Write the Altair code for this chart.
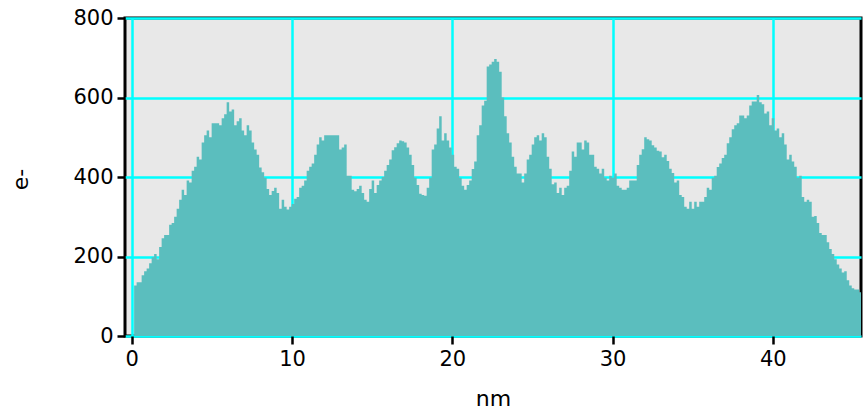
import altair as alt
import pandas as pd

# histogram bin layout (nm)
bin_start = 0.15
bin_width = 0.156

# electron counts per bin, read left to right
counts_a = [127, 135, 135, 153, 163, 170, 183, 198, 206, 193, 224, 246, 254, 254, 280, 284,
            300, 320, 343, 368, 355, 391, 386, 416, 426, 451, 444, 487, 505, 517, 500, 535,
            535, 535, 530, 548, 558, 588, 565, 570, 530, 540, 548, 517, 505, 530, 517, 487]
counts_b = [469, 456, 424, 412, 398, 370, 355, 365, 373, 360, 320, 343, 325, 318, 325, 332,
            345, 350, 373, 378, 391, 416, 426, 434, 456, 482, 500, 492, 505, 505, 505, 505,
            505, 505, 469, 474, 482, 403, 403, 368, 364, 370, 378, 360, 343, 338, 370, 391, 360]
counts_c = [380, 391, 400, 416, 430, 444, 467, 475, 485, 492, 490, 487, 474, 456, 430, 398,
            380, 358, 355, 353, 373, 398, 469, 482, 522, 553, 492, 510, 492, 474, 456, 426,
            421, 398, 378, 368, 380, 391, 420, 439, 505, 530, 580, 592, 678, 683, 690, 697,
            690, 665]
counts_d = [600, 553, 510, 487, 451, 426, 409, 409, 386, 409, 444, 456, 482, 500, 505, 492,
            510, 500, 451, 421, 382, 386, 360, 373, 355, 373, 378, 416, 464, 451, 487, 487,
            469, 492, 487, 456, 456, 426, 421, 409, 421, 398, 391, 403, 398, 409, 378, 373, 368]
counts_e = [368, 373, 391, 391, 391, 430, 456, 470, 500, 495, 492, 480, 474, 466, 464, 450,
            456, 440, 421, 410, 386, 391, 355, 350, 325, 320, 338, 320, 338, 325, 338, 338,
            350, 373, 368, 398, 403, 425, 434, 448, 456, 485, 500, 520, 530, 535, 555, 555,
            548, 555]
counts_f = [580, 590, 590, 606, 588, 583, 560, 565, 530, 548, 517, 522, 500, 510, 482, 444,
            456, 439, 426, 398, 403, 350, 338, 343, 338, 300, 302, 284, 259, 254, 254, 236,
            219, 206, 193, 180, 170, 160, 163, 140, 127, 120, 117, 117, 110]

x_ticks = [0, 10, 20, 30, 40]
y_ticks = [0, 200, 400, 600, 800]
x_domain = [-0.42, 45.5]
y_domain = [0, 800]

counts = counts_a + counts_b + counts_c + counts_d + counts_e + counts_f
df = pd.DataFrame({"counts": counts})
df["x0"] = bin_start + bin_width * df.index
# closing edge of the last bin so the step outline ends at the bin's right side
end_row = pd.DataFrame({"counts": [counts[-1]], "x0": [bin_start + bin_width * len(counts)]})
df = pd.concat([df, end_row], ignore_index=True)

FONT = "DejaVu Sans"

chart = alt.Chart(df).mark_area(
    color="#5BBEBE", interpolate="step-after", clip=True, opacity=1
).encode(
    x=alt.X("x0:Q",
            scale=alt.Scale(domain=x_domain, nice=False, zero=False),
            axis=alt.Axis(values=x_ticks, title="nm", format="d",
                          titleY=69, titleBaseline="alphabetic",
                          titleFontSize=22, labelPadding=4)),
    y=alt.Y("counts:Q",
            scale=alt.Scale(domain=y_domain, nice=False),
            axis=alt.Axis(values=y_ticks, title="e-", format="d",
                          titleX=-105, titleY=161, titleAngle=270,
                          titleAlign="center", titleBaseline="middle",
                          titleFontSize=22, labelPadding=4)),
).properties(
    width=736, height=318, autosize="none",
    padding={"left": 125, "top": 18, "right": 7, "bottom": 73},
    background="white",
).configure_view(
    fill="#E8E8E8", stroke="black", strokeWidth=3
).configure_axis(
    domain=False,
    grid=True, gridColor="#00FFFF", gridWidth=2.5, gridOpacity=1,
    ticks=True, tickColor="black", tickWidth=2.5, tickSize=8,
    labelFont=FONT, labelFontSize=21, labelColor="black",
    titleFont=FONT, titleFontWeight="normal", titleColor="black",
)

chart.save("out.html", embed_options={"renderer": "svg", "actions": False})
